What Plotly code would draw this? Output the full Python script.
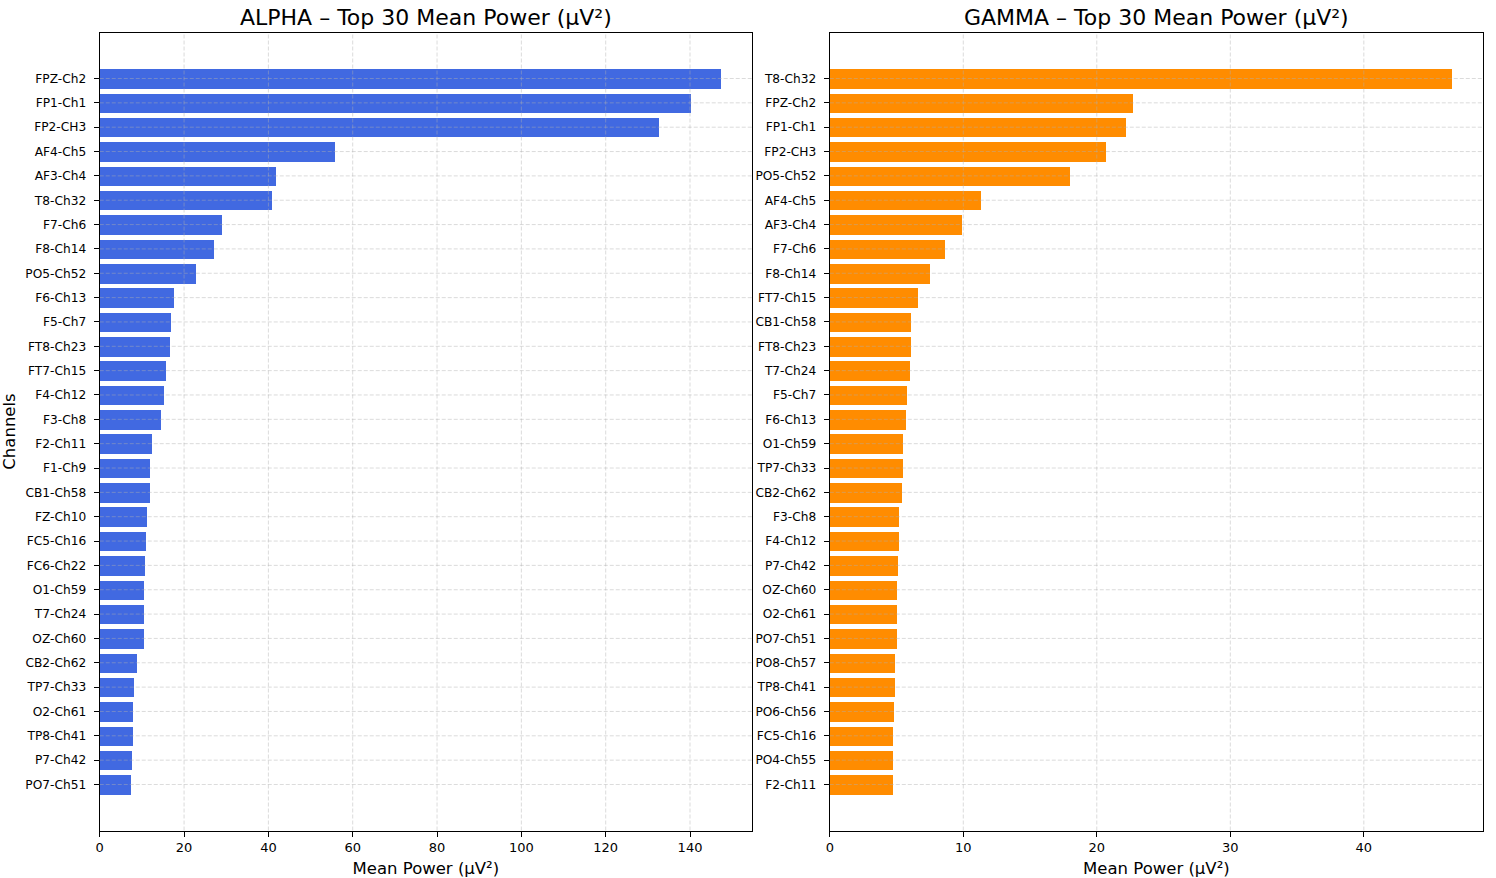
import plotly.graph_objects as go

alpha_channels = ["FPZ-Ch2", "FP1-Ch1", "FP2-CH3", "AF4-Ch5", "AF3-Ch4", "T8-Ch32", "F7-Ch6", "F8-Ch14",
                  "PO5-Ch52", "F6-Ch13", "F5-Ch7", "FT8-Ch23", "FT7-Ch15", "F4-Ch12", "F3-Ch8", "F2-Ch11",
                  "F1-Ch9", "CB1-Ch58", "FZ-Ch10", "FC5-Ch16", "FC6-Ch22", "O1-Ch59", "T7-Ch24", "OZ-Ch60",
                  "CB2-Ch62", "TP7-Ch33", "O2-Ch61", "TP8-Ch41", "P7-Ch42", "PO7-Ch51"]
alpha_values = [147.3, 140.2, 132.7, 55.7, 41.8, 40.8, 29.0, 27.1, 22.7, 17.5, 16.8, 16.5, 15.6, 15.1, 14.4,
                12.3, 11.8, 11.8, 11.1, 10.9, 10.6, 10.4, 10.4, 10.4, 8.7, 8.0, 7.8, 7.8, 7.6, 7.3]

gamma_channels = ["T8-Ch32", "FPZ-Ch2", "FP1-Ch1", "FP2-CH3", "PO5-Ch52", "AF4-Ch5", "AF3-Ch4", "F7-Ch6",
                  "F8-Ch14", "FT7-Ch15", "CB1-Ch58", "FT8-Ch23", "T7-Ch24", "F5-Ch7", "F6-Ch13", "O1-Ch59",
                  "TP7-Ch33", "CB2-Ch62", "F3-Ch8", "F4-Ch12", "P7-Ch42", "OZ-Ch60", "O2-Ch61", "PO7-Ch51",
                  "PO8-Ch57", "TP8-Ch41", "PO6-Ch56", "FC5-Ch16", "PO4-Ch55", "F2-Ch11"]
gamma_values = [46.6, 22.7, 22.2, 20.7, 18.0, 11.3, 9.85, 8.6, 7.5, 6.6, 6.1, 6.05, 6.0, 5.8, 5.7, 5.5,
                5.45, 5.4, 5.2, 5.15, 5.1, 5.05, 5.05, 5.0, 4.9, 4.9, 4.8, 4.75, 4.7, 4.7]

alpha_xticks = [0, 20, 40, 60, 80, 100, 120, 140]
gamma_xticks = [0, 10, 20, 30, 40]

alpha_title = "ALPHA – Top 30 Mean Power (µV²)"
gamma_title = "GAMMA – Top 30 Mean Power (µV²)"
x_label = "Mean Power (µV²)"
y_label = "Channels"

FONT = "DejaVu Sans"
W, H = 1496, 878


def px_x(p):
    return p / W


def px_y(p):
    return 1 - p / H


fig = go.Figure()
fig.add_trace(go.Bar(x=alpha_values, y=alpha_channels, orientation="h", width=0.8,
                     marker=dict(color="#4169E1", line=dict(width=0)), xaxis="x", yaxis="y"))
fig.add_trace(go.Bar(x=gamma_values, y=gamma_channels, orientation="h", width=0.8,
                     marker=dict(color="#FF8C00", line=dict(width=0)), xaxis="x2", yaxis="y2"))

n = len(alpha_channels)
yrange = [n - 1 + 0.4 + 1.49, -0.4 - 1.49]
grid_line = dict(color="rgba(176,176,176,0.45)", width=1, dash="4px,2px")

common_x = dict(showgrid=False, zeroline=False,
                showline=True, linecolor="black", linewidth=1.2, mirror=True, ticks="outside",
                ticklen=5, tickcolor="black", tickfont=dict(family=FONT, size=13, color="black"),
                ticklabelstandoff=0,
                title=dict(text=x_label, font=dict(family=FONT, size=16.5, color="black"), standoff=8))
common_y = dict(showgrid=False, zeroline=False,
                showline=True, linecolor="black", linewidth=1.2, mirror=True, ticks="outside",
                ticklen=5, tickcolor="black", tickfont=dict(family=FONT, size=12.2, color="black"),
                ticklabelstandoff=5, type="category", range=yrange)

shapes = []
for xa, ya, ticks, cats in (("x", "y", alpha_xticks, alpha_channels), ("x2", "y2", gamma_xticks, gamma_channels)):
    for t in ticks[1:]:
        shapes.append(dict(type="line", xref=xa, yref=ya + " domain", x0=t, x1=t, y0=0, y1=1,
                           line=grid_line, layer="above"))
    for c in cats:
        shapes.append(dict(type="line", xref=xa + " domain", yref=ya, x0=0, x1=1, y0=c, y1=c,
                           line=grid_line, layer="above"))

ytop = px_y(32.5)
ybot = px_y(830.5)
fig.update_layout(
    width=W, height=H, margin=dict(l=0, r=0, t=0, b=0),
    plot_bgcolor="white", paper_bgcolor="white", showlegend=False, bargap=0,
    font=dict(family=FONT, color="black"),
    xaxis=dict(common_x, domain=[px_x(96), px_x(750)], range=[0, 154.7],
               tickvals=alpha_xticks, anchor="y"),
    yaxis=dict(common_y, domain=[ybot, ytop], anchor="x",
               title=dict(text=y_label, font=dict(family=FONT, size=16.5, color="black"), standoff=8),
               categoryorder="array", categoryarray=alpha_channels),
    xaxis2=dict(common_x, domain=[px_x(828), px_x(1483)], range=[0, 48.93],
                tickvals=gamma_xticks, anchor="y2"),
    yaxis2=dict(common_y, domain=[ybot, ytop], anchor="x2",
                categoryorder="array", categoryarray=gamma_channels),
    shapes=shapes,
    annotations=[
        dict(text=alpha_title, x=px_x((96 + 750) / 2), y=ytop, xref="paper", yref="paper",
             xanchor="center", yanchor="bottom", yshift=1, showarrow=False,
             font=dict(family=FONT, size=22, color="black")),
        dict(text=gamma_title, x=px_x((828 + 1483) / 2), y=ytop, xref="paper", yref="paper",
             xanchor="center", yanchor="bottom", yshift=1, showarrow=False,
             font=dict(family=FONT, size=22, color="black")),
    ],
)

fig.write_html("out.html", config={"displayModeBar": False},
               post_script="document.body.style.margin='0px';")
